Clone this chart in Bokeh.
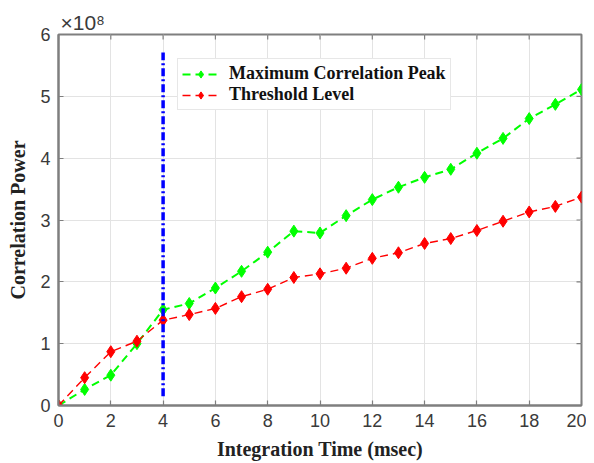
import math
from bokeh.plotting import figure
from bokeh.models import Legend, LegendItem, FixedTicker, Range1d
from bokeh.embed import file_html
from bokeh.resources import INLINE

time_ms = list(range(0, 21))
max_peak = [0.0, 0.26, 0.49, 1.0, 1.55, 1.65, 1.9, 2.17, 2.48, 2.82, 2.79, 3.07, 3.33, 3.53, 3.69, 3.82, 4.08, 4.32, 4.64, 4.87, 5.11]
threshold = [0.0, 0.45, 0.87, 1.04, 1.38, 1.47, 1.57, 1.76, 1.88, 2.07, 2.13, 2.22, 2.38, 2.47, 2.62, 2.70, 2.83, 2.98, 3.13, 3.22, 3.37]
marker_x = [4, 4]
marker_y = [0.15, 5.71]
x_ticks = list(range(0, 21, 2))
y_ticks = [0, 1, 2, 3, 4, 5, 6]
x_min, x_max = 0, 20
y_min, y_max = 0, 6

AX = "#7f7f7f"

p = figure(width=586, height=455, output_backend="svg", toolbar_location=None,
           x_range=Range1d(x_min, x_max), y_range=Range1d(y_min, y_max),
           min_border_left=58, min_border_right=5, min_border_top=34, min_border_bottom=50)
p.frame_width = 523
p.frame_height = 371

p.title.text = "×10⁸"
p.title.align = "left"
p.title.text_font = "Liberation Sans"
p.title.text_font_style = "normal"
p.title.text_font_size = "21px"
p.title.text_color = "#3a3a3a"
p.title.offset = 2
p.title.standoff = 2

p.xgrid.ticker = FixedTicker(ticks=x_ticks)
p.ygrid.ticker = FixedTicker(ticks=y_ticks)
p.grid.grid_line_color = "#e3e3e3"
p.grid.grid_line_width = 1
p.outline_line_color = AX
p.outline_line_width = 2

green = p.line(time_ms, max_peak, line_color="#00ff00", line_width=2, line_dash="8 5")
green_m = p.scatter(time_ms, max_peak, marker="diamond", size=12, fill_color="#00ff00", line_color="#00ff00")
red = p.line(time_ms, threshold, line_color="#ff0000", line_width=1.4, line_dash="8 5")
red_m = p.scatter(time_ms, threshold, marker="diamond", size=12, fill_color="#ff0000", line_color="#ff0000")
p.line(marker_x, marker_y, line_color="#0000ff", line_width=3.5, line_dash="8 3 2 3")

# inward ticks on top and right edges (box on)
p.scatter(x_ticks, [y_max] * len(x_ticks), marker="dash", angle=math.pi / 2, size=10, line_color=AX, line_width=1.2)
p.scatter([x_max] * len(y_ticks), y_ticks, marker="dash", size=10, line_color=AX, line_width=1.2)

for ax in (p.xaxis[0], p.yaxis[0]):
    ax.major_tick_in = 5
    ax.major_tick_out = 0
    ax.minor_tick_line_color = None
    ax.axis_line_color = AX
    ax.axis_line_width = 2
    ax.major_tick_line_color = AX
    ax.major_tick_line_width = 1.2
    ax.major_label_text_font = "Liberation Sans"
    ax.major_label_text_font_size = "18px"
    ax.major_label_text_color = "#3a3a3a"
    ax.axis_label_text_font = "Liberation Serif"
    ax.axis_label_text_font_style = "bold"
    ax.axis_label_text_font_size = "20px"
    ax.axis_label_text_color = "#222222"

p.xaxis[0].ticker = FixedTicker(ticks=x_ticks)
p.yaxis[0].ticker = FixedTicker(ticks=y_ticks)
p.xaxis[0].axis_label = "Integration Time (msec)"
p.yaxis[0].axis_label = "Correlation Power"
p.xaxis[0].major_label_standoff = 8
p.yaxis[0].major_label_standoff = 8
p.xaxis[0].axis_label_standoff = 8
p.yaxis[0].axis_label_standoff = 8

legend = Legend(items=[LegendItem(label="Maximum Correlation Peak", renderers=[green, green_m]),
                       LegendItem(label="Threshold Level", renderers=[red, red_m])],
                location=(119, 295), label_text_font="Liberation Serif", label_text_font_style="bold",
                label_text_font_size="18px", label_text_color="#111111",
                glyph_width=37, glyph_height=18, label_height=18, spacing=0, padding=4, margin=0,
                label_standoff=10, border_line_color="#d0d0d0", border_line_width=1.5,
                background_fill_alpha=1)
p.add_layout(legend, "center")

open("out.html", "w").write(file_html(p, INLINE))
